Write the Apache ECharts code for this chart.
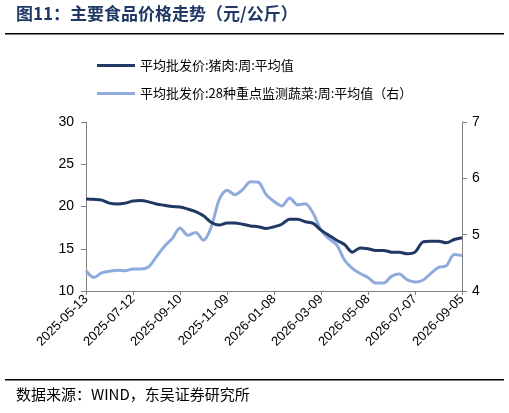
<!DOCTYPE html>
<html><head><meta charset="utf-8">
<script src="https://cdn.jsdelivr.net/npm/echarts@6/dist/echarts.min.js"></script>
<style>html,body{margin:0;padding:0;background:#fff}#c{width:509px;height:413px}</style>
</head><body><div id="c"></div>
<script>
const startDate = '2025-05-13';
const stepDays = 10;
const pork = [20.9,20.85,20.75,20.4,20.3,20.4,20.65,20.7,20.55,20.3,20.15,20.0,19.95,19.7,19.4,18.9,18.1,17.8,18.05,18.05,17.9,17.7,17.6,17.4,17.6,17.9,18.5,18.5,18.2,18.0,17.2,16.6,16.0,15.5,14.6,15.1,15.0,14.8,14.8,14.6,14.6,14.4,14.6,15.8,15.9,15.9,15.7,16.1,16.3];
const veg = [4.36,4.24,4.32,4.35,4.37,4.36,4.39,4.39,4.43,4.61,4.79,4.93,5.12,4.99,5.04,4.9,5.14,5.62,5.79,5.71,5.8,5.94,5.93,5.71,5.59,5.51,5.65,5.53,5.55,5.38,5.08,4.93,4.82,4.55,4.4,4.31,4.24,4.14,4.14,4.26,4.3,4.2,4.16,4.19,4.31,4.42,4.45,4.65,4.63];
const categories = pork.map((_, i) => {
  const d = new Date(startDate + 'T00:00:00Z');
  d.setUTCDate(d.getUTCDate() + i * stepDays);
  return d.toISOString().slice(0, 10);
});
const porkName = '平均批发价:猪肉:周:平均值';
const vegName = '平均批发价:28种重点监测蔬菜:周:平均值（右）';
const font = 'Arial, "Liberation Sans", sans-serif';
const chart = echarts.init(document.getElementById('c'));
chart.setOption({
  animation: false,
  graphic: [
    {type:'text', left: 16, top: 5, style:{text:'图11：主要食品价格走势（元/公斤）', font:'bold 17px "Noto Sans CJK SC"', fill:'#1f3864'}},
    {type:'rect', shape:{x:5,y:33,width:499,height:1.5}, style:{fill:'#000'}},
    {type:'rect', shape:{x:5,y:379,width:499,height:1.5}, style:{fill:'#000'}},
    {type:'text', left: 16, top: 387, style:{text:'数据来源：WIND，东吴证券研究所', font:'15px "Noto Sans CJK SC"', fill:'#000'}}
  ],
  legend: {
    orient: 'vertical', left: 92, top: 54, itemGap: 15, itemWidth: 38, itemHeight: 3,
    icon: 'rect',
    textStyle: {fontSize: 13, color: '#000', fontFamily: '"Noto Sans CJK SC"'},
    data: [porkName, vegName]
  },
  grid: {left: 86, right: 47, top: 122, bottom: 122},
  xAxis: {
    type: 'category', data: categories, boundaryGap: false,
    axisLine: {lineStyle: {color: '#808080'}},
    axisTick: {interval: 5, length: 4, lineStyle: {color: '#808080'}},
    axisLabel: {interval: 5, rotate: 45, color: '#000', fontSize: 13, fontFamily: font, margin: 6}
  },
  yAxis: [
    {type:'value', min:10, max:30, interval:5, splitLine:{show:false},
     axisLine:{show:true, lineStyle:{color:'#808080'}}, axisTick:{show:true, lineStyle:{color:'#808080'}},
     axisLabel:{color:'#000', fontSize:14, fontFamily:font, margin: 12}},
    {type:'value', min:4, max:7, interval:1, splitLine:{show:false},
     axisLine:{show:true, lineStyle:{color:'#808080'}}, axisTick:{show:true, lineStyle:{color:'#808080'}},
     axisLabel:{color:'#000', fontSize:14, fontFamily:font, margin: 10}}
  ],
  series: [
    {name: porkName, type:'line', data: pork, yAxisIndex:0, smooth:0.3, showSymbol:false,
     lineStyle:{width:3, color:'#203864'}, itemStyle:{color:'#203864'}, z:3},
    {name: vegName, type:'line', data: veg, yAxisIndex:1, smooth:0.3, showSymbol:false,
     lineStyle:{width:3, color:'#8faadc'}, itemStyle:{color:'#8faadc'}, z:2}
  ]
});
</script></body></html>
